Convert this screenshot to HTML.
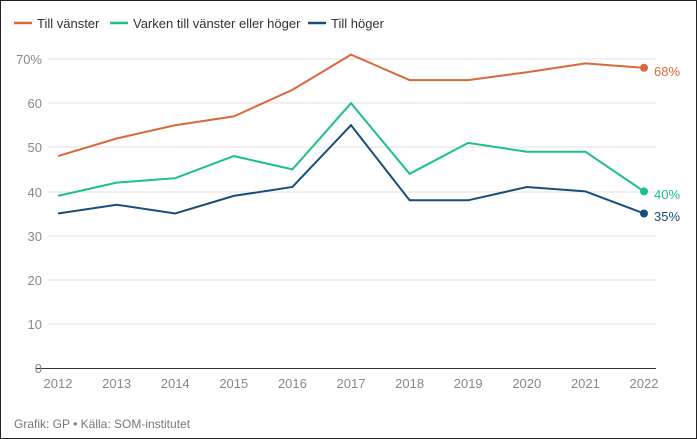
<!DOCTYPE html>
<html><head><style>
body{margin:0;background:#fff}
.w{width:695px;height:437px;border:1px solid #222;position:relative;overflow:hidden;font-family:"Liberation Sans",sans-serif}
</style></head><body><div class="w">
<svg width="695" height="437" viewBox="1 1 695 437" xmlns="http://www.w3.org/2000/svg" font-family="Liberation Sans, sans-serif">
<g font-size="13" fill="#333">
<line x1="14" y1="23" x2="32" y2="23" stroke="#d9683a" stroke-width="2.5"/><text x="37" y="28">Till vänster</text>
<line x1="110" y1="23" x2="128" y2="23" stroke="#1cc089" stroke-width="2.5"/><text x="133" y="28">Varken till vänster eller höger</text>
<line x1="308" y1="23" x2="326" y2="23" stroke="#1a4e7a" stroke-width="2.5"/><text x="331" y="28">Till höger</text>
</g>
<g stroke="#e2e2e2" stroke-width="1">
<line x1="48" y1="59" x2="656" y2="59"/><line x1="48" y1="103" x2="656" y2="103"/><line x1="48" y1="147" x2="656" y2="147"/><line x1="48" y1="192" x2="656" y2="192"/><line x1="48" y1="236" x2="656" y2="236"/><line x1="48" y1="280" x2="656" y2="280"/><line x1="48" y1="324" x2="656" y2="324"/>
</g>
<line x1="36" y1="368.5" x2="656" y2="368.5" stroke="#333" stroke-width="1"/>
<g font-size="13" fill="#888" text-anchor="end">
<text x="42" y="64">70%</text><text x="42" y="108">60</text><text x="42" y="152">50</text><text x="42" y="197">40</text><text x="42" y="241">30</text><text x="42" y="285">20</text><text x="42" y="329">10</text><text x="42" y="373">0</text>
</g>
<g font-size="13" fill="#888" text-anchor="middle">
<text x="58" y="388">2012</text><text x="116.6" y="388">2013</text><text x="175.2" y="388">2014</text><text x="233.8" y="388">2015</text><text x="292.4" y="388">2016</text><text x="351" y="388">2017</text><text x="409.6" y="388">2018</text><text x="468.2" y="388">2019</text><text x="526.8" y="388">2020</text><text x="585.4" y="388">2021</text><text x="644" y="388">2022</text>
</g>
<g fill="none" stroke-width="2">
<polyline stroke="#d9683a" points="58,156.1 116.6,138.5 175.2,125.2 233.8,116.4 292.4,89.9 351,54.6 409.6,80.1 468.2,80.1 526.8,72.3 585.4,63.4 644,67.8"/>
<polyline stroke="#1cc089" points="58,195.9 116.6,182.6 175.2,178.2 233.8,156.1 292.4,169.4 351,103.2 409.6,173.8 468.2,142.9 526.8,151.7 585.4,151.7 644,191.4"/>
<polyline stroke="#1a4e7a" points="58,213.5 116.6,204.7 175.2,213.5 233.8,195.9 292.4,187 351,125.2 409.6,200.3 468.2,200.3 526.8,187 585.4,191.4 644,213.5"/>
</g>
<circle cx="644" cy="67.8" r="4" fill="#d9683a"/><circle cx="644" cy="191.4" r="4" fill="#1cc089"/><circle cx="644" cy="213.5" r="4" fill="#1a4e7a"/>
<g font-size="13">
<text x="654" y="76" fill="#d9683a">68%</text><text x="654" y="199" fill="#1cc089">40%</text><text x="654" y="221" fill="#1a4e7a">35%</text>
</g>
<text x="14" y="428" font-size="12" fill="#777">Grafik: GP • Källa: SOM-institutet</text>
</svg></div></body></html>
